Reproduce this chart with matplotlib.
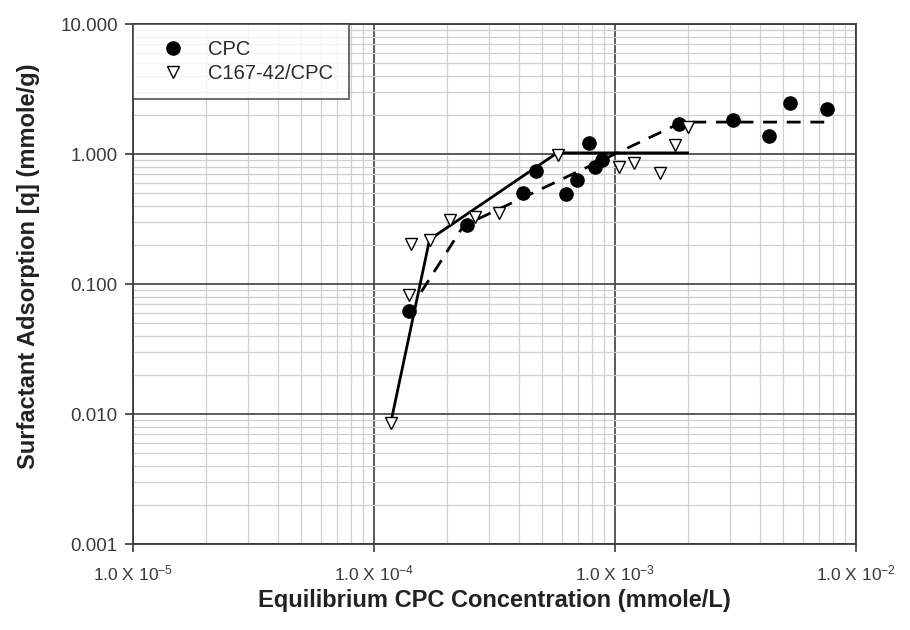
import matplotlib
matplotlib.use("Agg")
import matplotlib.pyplot as plt
from matplotlib.ticker import FixedLocator, LogLocator, NullFormatter

plt.rcParams['font.family'] = ['Liberation Sans', 'DejaVu Sans']
plt.rcParams['mathtext.fontset'] = 'custom'
plt.rcParams['mathtext.rm'] = 'Liberation Sans'
plt.rcParams['mathtext.it'] = 'Liberation Sans'

# measured isotherm points
cpc_conc = [1.40e-4, 2.44e-4, 4.17e-4, 4.69e-4, 6.24e-4, 6.95e-4, 7.80e-4,
            8.26e-4, 8.85e-4, 1.85e-3, 3.10e-3, 4.37e-3, 5.32e-3, 7.55e-3]
cpc_q = [0.062, 0.284, 0.499, 0.740, 0.492, 0.631, 1.22,
         0.798, 0.899, 1.69, 1.83, 1.38, 2.45, 2.22]

mix_conc = [1.18e-4, 1.40e-4, 1.42e-4, 1.70e-4, 2.06e-4, 2.62e-4, 3.29e-4,
            5.82e-4, 1.04e-3, 1.20e-3, 1.53e-3, 1.77e-3, 2.00e-3]
mix_q = [0.0086, 0.082, 0.203, 0.218, 0.311, 0.330, 0.350,
         0.982, 0.798, 0.857, 0.718, 1.17, 1.62]

# fitted isotherm shapes
fit_solid_x = [1.18e-4, 1.70e-4, 5.75e-4, 2.0e-3]
fit_solid_y = [0.009, 0.22, 1.02, 1.02]
fit_dash_x = [1.57e-4, 2.35e-4, 1.9e-3, 7.9e-3]
fit_dash_y = [0.087, 0.28, 1.76, 1.76]

x_ticks = [1e-5, 1e-4, 1e-3, 1e-2]
x_labels = ["1.0 X 10$^{-5}$", "1.0 X 10$^{-4}$", "1.0 X 10$^{-3}$", "1.0 X 10$^{-2}$"]
y_ticks = [0.001, 0.01, 0.1, 1, 10]
y_labels = ["0.001", "0.010", "0.100", "1.000", "10.000"]

fig = plt.figure(figsize=(9.1, 6.3), dpi=100)
ax = fig.add_axes([0.1462, 0.1365, 0.7945, 0.8254])
ax.set_xscale('log')
ax.set_yscale('log')
ax.set_xlim(1e-5, 1e-2)
ax.set_ylim(0.001, 10)

# grid
ax.xaxis.set_major_locator(FixedLocator(x_ticks))
ax.yaxis.set_major_locator(FixedLocator(y_ticks))
ax.xaxis.set_minor_locator(LogLocator(base=10, subs=range(2, 10)))
ax.yaxis.set_minor_locator(LogLocator(base=10, subs=range(2, 10)))
ax.xaxis.set_minor_formatter(NullFormatter())
ax.yaxis.set_minor_formatter(NullFormatter())
ax.grid(which='minor', color='#cfcfcf', linewidth=0.9)
ax.grid(which='major', color='#4d4d4d', linewidth=1.3)
ax.set_axisbelow(True)

ax.plot(fit_solid_x, fit_solid_y, color='black', linewidth=2.0, linestyle='-')
ax.plot(fit_dash_x, fit_dash_y, color='black', linewidth=2.0, linestyle=(0, (5, 3.5)))
ax.plot(cpc_conc, cpc_q, linestyle='none', marker='o', markersize=9.5,
        color='black', label='CPC')
ax.plot(mix_conc, mix_q, linestyle='none', marker='v', markersize=8,
        markerfacecolor='white', markeredgecolor='black', markeredgewidth=1.0,
        label='C167-42/CPC')

ax.set_xticks(x_ticks)
ax.set_xticklabels(x_labels)
ax.set_yticks(y_ticks)
ax.set_yticklabels(y_labels)
ax.tick_params(which='major', direction='out', length=6, width=1.2,
               colors='#3a3a3a', pad=5)
ax.tick_params(which='minor', length=0)
ax.tick_params(axis='x', pad=8, labelsize=12.5)
ax.tick_params(axis='y', labelsize=13.5)

for side in ['left', 'bottom', 'top', 'right']:
    ax.spines[side].set_color('#3a3a3a')
    ax.spines[side].set_linewidth(1.3)

ax.set_xlabel("Equilibrium CPC Concentration (mmole/L)", fontsize=17,
              fontweight='bold', color='#222222', labelpad=4)
ax.set_ylabel("Surfactant Adsorption [q] (mmole/g)", fontsize=17,
              fontweight='bold', color='#222222')
ax.yaxis.set_label_coords(-0.128, 0.535)

leg = ax.legend(loc='upper left', bbox_to_anchor=(0, 1), fontsize=14.5,
                frameon=True, fancybox=False, borderpad=0.8, labelspacing=0.25,
                handletextpad=0.5, borderaxespad=0, handlelength=2.4)
leg.get_frame().set_edgecolor('#3a3a3a')
leg.get_frame().set_linewidth(1.3)
for t in leg.get_texts():
    t.set_color('#2a2a2a')

fig.savefig("out.png", dpi=100)
